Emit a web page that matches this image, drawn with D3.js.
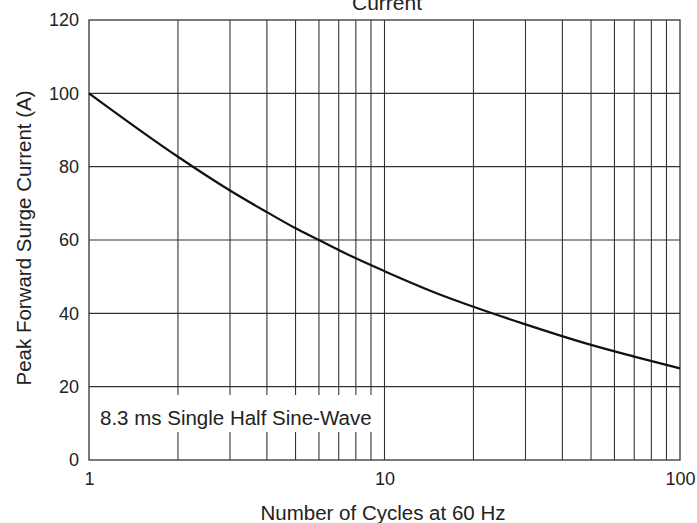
<!DOCTYPE html>
<html>
<head>
<meta charset="utf-8">
<script src="https://cdn.jsdelivr.net/npm/d3@7"></script>
<style>
  body { margin: 0; background: #fff; }
  text { font-family: "Liberation Sans", Arial, sans-serif; fill: #222; }
</style>
</head>
<body>
<script>
// curve: cycles vs peak current
const cycles = [1, 2, 3, 4, 5, 6, 8, 10, 15, 20, 30, 50, 70, 100];
const current = [100, 82.7, 73.5, 67.6, 63.2, 60, 55, 51.5, 45.5, 41.8, 37, 31.4, 28.2, 25];
const xTicks = [1, 10, 100];
const yTicks = [0, 20, 40, 60, 80, 100, 120];

const w = 697, h = 523;
const m = {top: 20, right: 17, bottom: 63, left: 89};

const svg = d3.select("body").append("svg")
  .attr("width", w)
  .attr("height", h);

const x = d3.scaleLog().domain([1, 100]).range([m.left, w - m.right]);
const y = d3.scaleLinear().domain([0, 120]).range([h - m.bottom, m.top]);

// grid
const minor = [];
for (let d = 1; d < 100; d *= 10)
  for (let k = 1; k < 10; k++) minor.push(d * k);

svg.append("g").selectAll("line")
  .data(minor.filter(v => v > 1))
  .enter().append("line")
  .attr("x1", d => x(d)).attr("x2", d => x(d))
  .attr("y1", y(0)).attr("y2", y(120))
  .attr("stroke", "#333").attr("stroke-width", 1.1);

svg.append("g").selectAll("line")
  .data(yTicks.filter(v => v > 0 && v < 120))
  .enter().append("line")
  .attr("x1", x(1)).attr("x2", x(100))
  .attr("y1", d => y(d)).attr("y2", d => y(d))
  .attr("stroke", "#333").attr("stroke-width", 1.1);

svg.append("rect")
  .attr("x", x(1)).attr("y", y(120))
  .attr("width", x(100) - x(1)).attr("height", y(0) - y(120))
  .attr("fill", "none").attr("stroke", "#333").attr("stroke-width", 1.3);

// note box
const note = svg.append("g");
note.append("rect")
  .attr("x", x(1) + 1).attr("y", 395)
  .attr("width", 291).attr("height", 37)
  .attr("fill", "#fff");
note.append("text")
  .attr("x", 100).attr("y", 425)
  .attr("font-size", 20.5)
  .text("8.3 ms Single Half Sine-Wave");

// curve
const line = d3.line()
  .x((d, i) => x(cycles[i]))
  .y(d => y(d))
  .curve(d3.curveMonotoneX);

svg.append("path")
  .datum(current)
  .attr("d", line)
  .attr("fill", "none")
  .attr("stroke", "#111")
  .attr("stroke-width", 2.2);

// axes
const xAxis = svg.append("g")
  .attr("transform", `translate(0,${y(0)})`)
  .call(d3.axisBottom(x).tickValues(xTicks).tickFormat(d3.format("d")).tickSize(0).tickPadding(12));
xAxis.select(".domain").remove();
xAxis.selectAll("text").attr("font-size", 18).attr("fill", "#222").attr("font-family", "Liberation Sans, Arial, sans-serif");

const yAxis = svg.append("g")
  .attr("transform", `translate(${x(1)},0)`)
  .call(d3.axisLeft(y).tickValues(yTicks).tickSize(0).tickPadding(10));
yAxis.select(".domain").remove();
yAxis.selectAll("text").attr("font-size", 18).attr("fill", "#222").attr("font-family", "Liberation Sans, Arial, sans-serif");

// titles
svg.append("text")
  .attr("x", 387).attr("y", 10)
  .attr("text-anchor", "middle")
  .attr("font-size", 21)
  .text("Current");

svg.append("text")
  .attr("x", 383).attr("y", 520)
  .attr("text-anchor", "middle")
  .attr("font-size", 20.5)
  .text("Number of Cycles at 60 Hz");

svg.append("text")
  .attr("transform", "translate(31,238) rotate(-90)")
  .attr("text-anchor", "middle")
  .attr("font-size", 20.5)
  .text("Peak Forward Surge Current (A)");
</script>
</body>
</html>
